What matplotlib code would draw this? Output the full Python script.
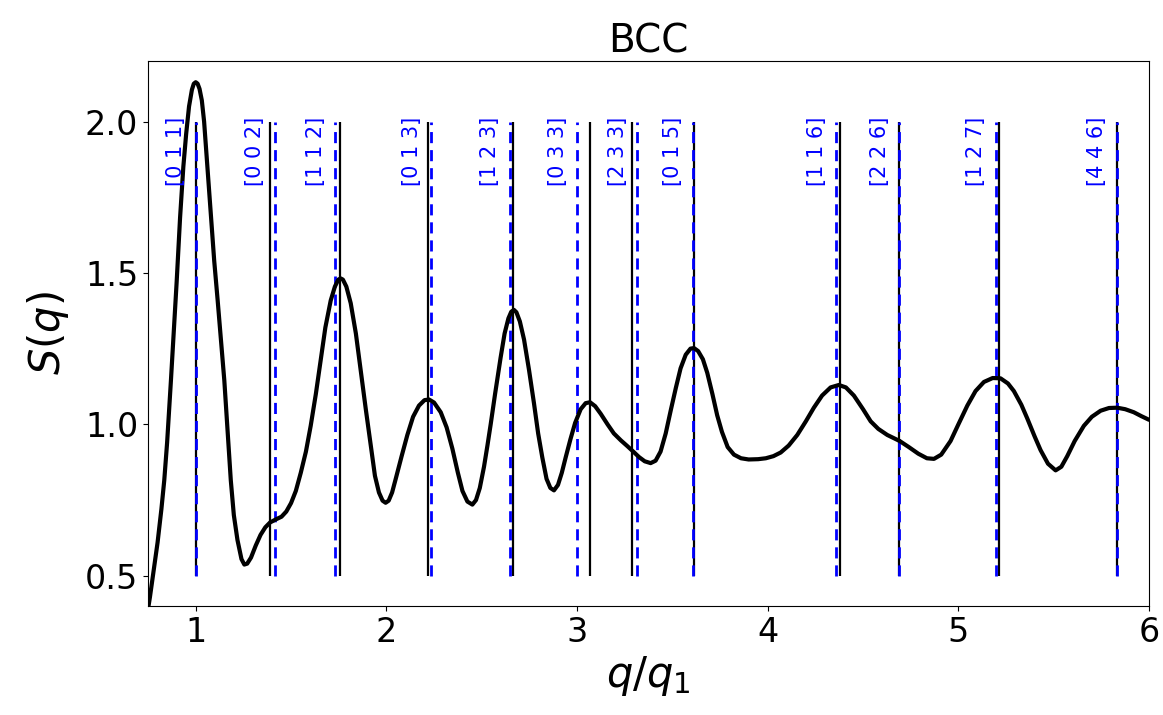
import matplotlib
matplotlib.use("Agg")
import matplotlib.pyplot as plt

# S(q) curve
q_curve = [0.750, 0.760, 0.780, 0.800, 0.820, 0.835, 0.850, 0.870, 0.885, 0.900,
           0.918, 0.935, 0.950, 0.965, 0.980, 0.990, 1.000, 1.010, 1.020, 1.032,
           1.044, 1.060, 1.080, 1.097, 1.115, 1.132, 1.150, 1.167, 1.184, 1.200,
           1.219, 1.240, 1.255, 1.270, 1.290, 1.315, 1.340, 1.365, 1.390, 1.420,
           1.450, 1.475, 1.500, 1.525, 1.551, 1.578, 1.603, 1.630, 1.655, 1.680,
           1.708, 1.730, 1.748, 1.760, 1.772, 1.790, 1.813, 1.840, 1.865, 1.892,
           1.918, 1.940, 1.961, 1.980, 1.996, 2.012, 2.030, 2.049, 2.080, 2.110,
           2.140, 2.171, 2.200, 2.224, 2.250, 2.285, 2.316, 2.346, 2.375, 2.399,
           2.425, 2.451, 2.470, 2.490, 2.512, 2.530, 2.547, 2.570, 2.599, 2.620,
           2.640, 2.655, 2.669, 2.682, 2.700, 2.722, 2.748, 2.774, 2.796, 2.818,
           2.840, 2.860, 2.879, 2.900, 2.920, 2.940, 2.965, 2.990, 3.019, 3.045,
           3.068, 3.095, 3.124, 3.160, 3.193, 3.230, 3.264, 3.295, 3.325, 3.355,
           3.386, 3.412, 3.438, 3.465, 3.491, 3.518, 3.543, 3.570, 3.595, 3.613,
           3.635, 3.660, 3.683, 3.710, 3.735, 3.760, 3.790, 3.823, 3.860, 3.900,
           3.950, 3.990, 4.030, 4.068, 4.110, 4.155, 4.200, 4.242, 4.285, 4.330,
           4.373, 4.410, 4.452, 4.500, 4.540, 4.580, 4.627, 4.692, 4.740, 4.790,
           4.835, 4.872, 4.910, 4.959, 5.000, 5.047, 5.090, 5.134, 5.180, 5.221,
           5.260, 5.291, 5.330, 5.361, 5.400, 5.431, 5.470, 5.510, 5.540, 5.571,
           5.610, 5.658, 5.700, 5.746, 5.790, 5.833, 5.875, 5.920, 5.960, 6.000]
s_curve = [0.390, 0.430, 0.520, 0.610, 0.720, 0.815, 0.940, 1.145, 1.310, 1.470,
           1.683, 1.850, 1.960, 2.050, 2.105, 2.125, 2.130, 2.125, 2.108, 2.070,
           2.000, 1.860, 1.683, 1.540, 1.410, 1.280, 1.145, 0.980, 0.815, 0.700,
           0.618, 0.555, 0.537, 0.540, 0.560, 0.600, 0.635, 0.660, 0.676, 0.686,
           0.695, 0.712, 0.740, 0.780, 0.840, 0.910, 0.995, 1.100, 1.210, 1.320,
           1.409, 1.455, 1.478, 1.482, 1.478, 1.455, 1.400, 1.300, 1.180, 1.050,
           0.930, 0.830, 0.775, 0.748, 0.741, 0.748, 0.775, 0.820, 0.895, 0.965,
           1.025, 1.062, 1.080, 1.082, 1.072, 1.040, 0.990, 0.920, 0.840, 0.780,
           0.745, 0.735, 0.750, 0.790, 0.860, 0.930, 1.000, 1.100, 1.220, 1.300,
           1.350, 1.372, 1.378, 1.370, 1.340, 1.280, 1.180, 1.070, 0.970, 0.890,
           0.820, 0.790, 0.782, 0.800, 0.840, 0.890, 0.950, 1.005, 1.050, 1.070,
           1.073, 1.060, 1.035, 1.000, 0.970, 0.947, 0.928, 0.910, 0.892, 0.878,
           0.872, 0.880, 0.910, 0.970, 1.045, 1.120, 1.185, 1.230, 1.250, 1.252,
           1.242, 1.215, 1.170, 1.100, 1.030, 0.975, 0.925, 0.900, 0.888, 0.884,
           0.885, 0.888, 0.895, 0.907, 0.930, 0.965, 1.010, 1.055, 1.095, 1.122,
           1.130, 1.122, 1.095, 1.050, 1.010, 0.985, 0.965, 0.945, 0.925, 0.903,
           0.888, 0.886, 0.900, 0.945, 1.000, 1.062, 1.110, 1.140, 1.153, 1.152,
           1.135, 1.110, 1.065, 1.020, 0.960, 0.915, 0.870, 0.848, 0.860, 0.895,
           0.945, 0.995, 1.025, 1.045, 1.054, 1.055, 1.050, 1.040, 1.027, 1.015]

# ideal BCC peak positions (blue dashed) and measured peaks (black)
labels = ["[0 1 1]", "[0 0 2]", "[1 1 2]", "[0 1 3]", "[1 2 3]", "[0 3 3]",
          "[2 3 3]", "[0 1 5]", "[1 1 6]", "[2 2 6]", "[1 2 7]", "[4 4 6]"]
q_ideal = [1.000, 1.414, 1.732, 2.236, 2.646, 3.000, 3.317, 3.606, 4.359,
           4.690, 5.196, 5.831]
q_found = [1.000, 1.390, 1.757, 2.218, 2.666, 3.066, 3.286, 3.615, 4.380,
           4.690, 5.211, 5.830]

fig = plt.figure(figsize=(11.63, 7.15), dpi=100)
ax = fig.add_axes([0.1273, 0.1524, 0.8607, 0.7623])

ax.plot(q_curve, s_curve, color="black", linewidth=3, solid_joinstyle="round",
        solid_capstyle="round", zorder=3)

ax.vlines(q_found, 0.5, 2.0, colors="black", linewidth=1.6, zorder=2)
ax.vlines(q_ideal, 0.5, 2.0, colors="blue", linestyles=(0, (4, 2.5)), linewidth=2, zorder=2.5)

for q, lab in zip(q_ideal, labels):
    ax.text(q - 0.05, 2.015, lab, rotation=90, ha="right", va="top",
            color="blue", fontsize=15)

ax.set_xlim(0.75, 6)
ax.set_ylim(0.4, 2.2)
ax.set_xticks([1, 2, 3, 4, 5, 6])
ax.set_yticks([0.5, 1.0, 1.5, 2.0])
ax.tick_params(labelsize=24)
ax.set_xlabel(r"$q/q_1$", fontsize=30, labelpad=4)
ax.set_ylabel(r"$S(q)$", fontsize=30, labelpad=10)
ax.set_title("BCC", fontsize=28, pad=6)

fig.savefig("out.png", dpi=100)
